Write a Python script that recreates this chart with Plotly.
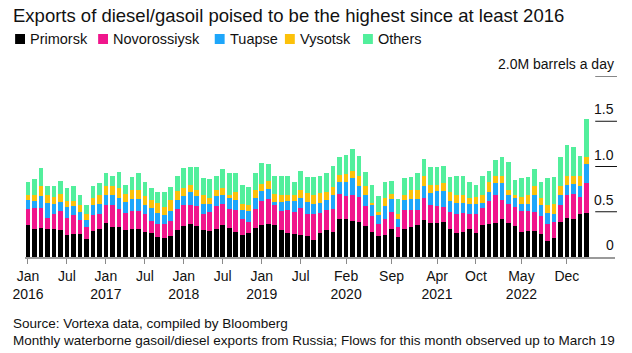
import pandas as pd
import plotly.graph_objects as go

months = pd.date_range("2016-01-01", periods=87, freq="MS").strftime("%Y-%m").tolist()

primorsk = [
    0.35, 0.31, 0.32, 0.31, 0.31, 0.30, 0.24, 0.25, 0.25, 0.20, 0.29, 0.31,
    0.38, 0.33, 0.33, 0.30, 0.31, 0.31, 0.28, 0.27, 0.22, 0.21, 0.23, 0.30,
    0.34, 0.37, 0.34, 0.30, 0.29, 0.31, 0.35, 0.32, 0.28, 0.24, 0.27, 0.32,
    0.35, 0.37, 0.35, 0.30, 0.27, 0.25, 0.24, 0.23, 0.19, 0.27, 0.30, 0.28,
    0.42, 0.42, 0.40, 0.39, 0.34, 0.28, 0.23, 0.24, 0.31, 0.22, 0.31, 0.33,
    0.35, 0.41, 0.38, 0.38, 0.39, 0.31, 0.27, 0.28, 0.31, 0.27, 0.35, 0.37,
    0.38, 0.42, 0.38, 0.34, 0.28, 0.29, 0.29, 0.25, 0.18, 0.21, 0.39, 0.43,
    0.42, 0.48, 0.49]
novorossiysk = [
    0.18, 0.23, 0.22, 0.12, 0.16, 0.21, 0.19, 0.21, 0.16, 0.13, 0.17, 0.16,
    0.20, 0.24, 0.20, 0.19, 0.20, 0.20, 0.19, 0.13, 0.14, 0.16, 0.17, 0.23,
    0.23, 0.21, 0.22, 0.18, 0.21, 0.25, 0.24, 0.21, 0.24, 0.18, 0.12, 0.21,
    0.27, 0.27, 0.22, 0.21, 0.25, 0.25, 0.30, 0.24, 0.29, 0.22, 0.22, 0.25,
    0.28, 0.25, 0.29, 0.27, 0.22, 0.17, 0.14, 0.18, 0.19, 0.11, 0.21, 0.19,
    0.17, 0.24, 0.20, 0.18, 0.16, 0.19, 0.21, 0.21, 0.17, 0.21, 0.19, 0.25,
    0.30, 0.21, 0.21, 0.21, 0.23, 0.22, 0.21, 0.20, 0.19, 0.18, 0.19, 0.25,
    0.28, 0.18, 0.33]
tuapse = [
    0.10, 0.08, 0.13, 0.17, 0.12, 0.10, 0.12, 0.10, 0.09, 0.08, 0.11, 0.12,
    0.11, 0.11, 0.12, 0.12, 0.13, 0.13, 0.10, 0.14, 0.13, 0.09, 0.11, 0.10,
    0.10, 0.14, 0.11, 0.11, 0.09, 0.11, 0.10, 0.12, 0.11, 0.10, 0.12, 0.12,
    0.11, 0.11, 0.04, 0.10, 0.10, 0.12, 0.11, 0.14, 0.11, 0.11, 0.11, 0.16,
    0.13, 0.16, 0.18, 0.13, 0.12, 0.12, 0.09, 0.14, 0.14, 0.09, 0.11, 0.12,
    0.12, 0.14, 0.13, 0.17, 0.18, 0.12, 0.12, 0.11, 0.11, 0.11, 0.06, 0.10,
    0.14, 0.19, 0.09, 0.10, 0.08, 0.08, 0.18, 0.13, 0.12, 0.09, 0.11, 0.12,
    0.11, 0.12, 0.21]
vysotsk = [
    0.06, 0.06, 0.12, 0.09, 0.07, 0.09, 0.07, 0.06, 0.07, 0.07, 0.08, 0.09,
    0.10, 0.10, 0.11, 0.09, 0.10, 0.10, 0.10, 0.09, 0.11, 0.09, 0.12, 0.10,
    0.09, 0.08, 0.07, 0.09, 0.06, 0.07, 0.07, 0.04, 0.09, 0.07, 0.07, 0.09,
    0.08, 0.09, 0.09, 0.08, 0.06, 0.07, 0.09, 0.10, 0.10, 0.11, 0.09, 0.08,
    0.08, 0.09, 0.08, 0.11, 0.10, 0.03, 0.04, 0.09, 0.06, 0.06, 0.06, 0.10,
    0.10, 0.11, 0.09, 0.07, 0.09, 0.10, 0.08, 0.08, 0.06, 0.07, 0.08, 0.11,
    0.08, 0.08, 0.06, 0.03, 0.07, 0.10, 0.10, 0.07, 0.08, 0.11, 0.09, 0.10,
    0.08, 0.12, 0.08]
others = [
    0.14, 0.18, 0.19, 0.09, 0.12, 0.14, 0.14, 0.16, 0.11, 0.09, 0.13, 0.14,
    0.14, 0.12, 0.18, 0.10, 0.14, 0.19, 0.16, 0.13, 0.12, 0.17, 0.14, 0.17,
    0.22, 0.20, 0.25, 0.19, 0.21, 0.16, 0.21, 0.24, 0.21, 0.21, 0.19, 0.19,
    0.23, 0.19, 0.19, 0.20, 0.21, 0.14, 0.21, 0.17, 0.19, 0.18, 0.21, 0.24,
    0.19, 0.21, 0.24, 0.22, 0.16, 0.20, 0.17, 0.18, 0.14, 0.16, 0.18, 0.14,
    0.19, 0.18, 0.19, 0.20, 0.19, 0.16, 0.21, 0.21, 0.18, 0.14, 0.21, 0.12,
    0.17, 0.21, 0.31, 0.17, 0.21, 0.19, 0.19, 0.18, 0.30, 0.29, 0.32, 0.34,
    0.33, 0.22, 0.41]

series_names = ["Primorsk", "Novorossiysk", "Tuapse", "Vysotsk", "Others"]
series_values = [primorsk, novorossiysk, tuapse, vysotsk, others]
colors = ["#000000", "#f0168c", "#1ea6fa", "#fcc10a", "#52ef9c"]

tick_months = ["2016-01", "2016-07", "2017-01", "2017-07", "2018-01", "2018-07",
               "2019-01", "2019-07", "2020-02", "2020-09", "2021-04", "2021-10",
               "2022-05", "2022-12"]
tick_labels = ["Jan<br>2016", "Jul", "Jan<br>2017", "Jul", "Jan<br>2018", "Jul",
               "Jan<br>2019", "Jul", "Feb<br>2020", "Sep", "Apr<br>2021", "Oct",
               "May<br>2022", "Dec"]
y_ticks = [0, 0.5, 1.0, 1.5, 2.0]
y_tick_labels = ["0", "0.5", "1.0", "1.5", "2.0M barrels a day"]

W, H = 632, 353
L, R, T, B = 18, 17, 76, 96
PW, PH = W - L - R, H - T - B
FONT = "Liberation Sans, Arial, sans-serif"

def px(x):
    return (x - L) / PW

def py(y):
    return (H - B - y) / PH

fig = go.Figure()
for name, vals, col in zip(series_names, series_values, colors):
    fig.add_trace(go.Bar(x=months, y=vals, name=name, marker_color=col,
                         marker_line_width=0, showlegend=False))

cat_w = 6.57
x0 = -(21 - L) / cat_w
fig.update_layout(
    barmode="stack", bargap=0.28,
    width=W, height=H, margin=dict(l=L, r=R, t=T, b=B, pad=0),
    paper_bgcolor="white", plot_bgcolor="white",
    font=dict(family=FONT, color="#111"),
    xaxis=dict(type="category", range=[x0, x0 + PW / cat_w],
               tickmode="array", tickvals=tick_months, ticktext=tick_labels,
               ticks="outside", ticklen=5, tickwidth=1, tickcolor="#8a8a8a",
               showline=True, linecolor="#9a9a9a", linewidth=2,
               showgrid=False, tickfont=dict(size=14, color="#111")),
    yaxis=dict(range=[0, 2.0], showticklabels=False, showgrid=False,
               zeroline=False, showline=False, fixedrange=True),
)

for v, lab in zip(y_ticks, y_tick_labels):
    if v > 0:
        fig.add_shape(type="line", xref="paper", yref="y",
                      x0=px(595), x1=px(617), y0=v, y1=v,
                      line=dict(color="#111", width=1))
    fig.add_annotation(text=lab, xref="paper", yref="y", x=px(616), y=v,
                       xanchor="right", yanchor="bottom", yshift=2,
                       showarrow=False, font=dict(size=14, color="#111"))

# Title
fig.add_annotation(text="Exports of diesel/gasoil poised to be the highest since at least 2016",
                   xref="paper", yref="paper", x=px(4), y=py(15),
                   xanchor="left", yanchor="middle", showarrow=False,
                   font=dict(size=18.5, color="#111"))

# Legend
legend_x = [8, 92, 210, 281, 360]
for name, col, lx in zip(series_names, colors, legend_x):
    fig.add_shape(type="rect", xref="paper", yref="paper",
                  x0=px(lx), x1=px(lx + 10), y0=py(34), y1=py(44),
                  fillcolor=col, line=dict(width=0))
    fig.add_annotation(text=name, xref="paper", yref="paper", x=px(lx + 13), y=py(39),
                       xanchor="left", yanchor="middle", showarrow=False,
                       font=dict(size=14.5, color="#111"))

# Footer
fig.add_annotation(text="Source: Vortexa data, compiled by Bloomberg",
                   xref="paper", yref="paper", x=px(4), y=py(323),
                   xanchor="left", yanchor="middle", showarrow=False,
                   font=dict(size=13.5, color="#111"))
fig.add_annotation(text="Monthly waterborne gasoil/diesel exports from Russia; Flows for this month observed up to March 19",
                   xref="paper", yref="paper", x=px(4), y=py(340),
                   xanchor="left", yanchor="middle", showarrow=False,
                   font=dict(size=13.5, color="#111"))

fig.write_html("out.html")
